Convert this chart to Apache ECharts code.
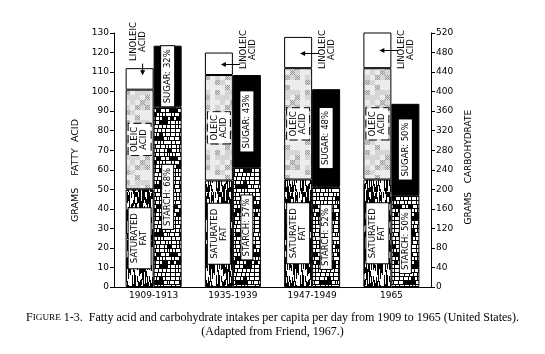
<!DOCTYPE html>
<html><head><meta charset="utf-8">
<script src="https://cdn.jsdelivr.net/npm/echarts@6/dist/echarts.min.js"></script>
<style>html,body{margin:0;padding:0;background:#fff}#c{width:545px;height:354px}</style>
</head><body><div id="c"></div>
<script>
// ---- data ----
const categories = ['1909-1913', '1935-1939', '1947-1949', '1965'];
const saturatedFat = [50, 54.5, 55, 55];
const oleicAcid = [51, 54, 57, 57];
const linoleicAcid = [11, 11.5, 16, 18.5];
const starch = [369, 244, 205, 188];
const sugar = [125, 190, 200, 187];
const starchPct = ['68%', '57%', '52%', '50%'];
const sugarPct = ['32%', '43%', '48%', '50%'];
const fatAxis = { min: 0, max: 130, interval: 10 };
const carbAxis = { min: 0, max: 520, interval: 40 };

// ---- styling ----
const SANS = '"DejaVu Sans", sans-serif';
const SERIF = '"Liberation Serif", "DejaVu Serif", serif';
const BAR_W = 28;

function makeCanvas(w, h, draw) { const c = document.createElement('canvas'); c.width = w; c.height = h; draw(c.getContext('2d'), w, h); return c; }
function hash(x, y) { const s = Math.sin(x * 12.9898 + y * 78.233) * 43758.5453; return s - Math.floor(s); }

const satPattern = makeCanvas(28, 48, (g, w, h) => {
  g.fillStyle = '#fff'; g.fillRect(0, 0, w, h); g.fillStyle = '#000';
  for (let x = 0; x < w; x++) {
    const off = Math.floor(hash(x, 3) * 8);
    for (let y = 0; y < h; y++) {
      if (hash(x, Math.floor((y + off) / 6)) < 0.62) g.fillRect(x, y, 1, 1);
    }
  }
});
const starchPattern = makeCanvas(28, 48, (g, w, h) => {
  g.fillStyle = '#fff'; g.fillRect(0, 0, w, h); g.fillStyle = '#000';
  for (let r = 0; r < 12; r++) {
    const y = r * 4; g.fillRect(0, y, w, 1);
    let x = Math.floor(hash(r, 2) * 4), k = 0;
    while (x < w) {
      g.fillRect(x, y, 1, 4);
      const cw = 3 + Math.floor(hash(r, k + 5) * 3);
      if (hash(r, k + 20) < 0.12) g.fillRect(x, y, cw, 4);
      x += cw; k++;
    }
  }
});
const oleicPattern = makeCanvas(30, 30, (g, w, h) => {
  g.fillStyle = '#d6d6d6'; g.fillRect(0, 0, w, h);
  for (let x = 0; x < w; x++) for (let y = 0; y < h; y++) {
    const v = hash(Math.floor(x / 5), Math.floor(y / 5));
    if (v < 0.35) { g.fillStyle = '#ececec'; g.fillRect(x, y, 1, 1); }
    else if (v > 0.78 && (x + y) % 2 === 0) { g.fillStyle = '#9a9a9a'; g.fillRect(x, y, 1, 1); }
  }
});

const boxLabel = (fmt, extra) => Object.assign({
  show: true, position: 'inside', rotate: 90, formatter: fmt,
  color: '#000', fontFamily: SANS, fontSize: 8.5, lineHeight: 9,
  backgroundColor: '#fff', borderColor: '#000', borderWidth: 1, padding: [2, 5, 2, 5]
}, extra || {});

const chart = echarts.init(document.getElementById('c'), null, { renderer: 'canvas' });
const option = {
  animation: false,
  backgroundColor: '#fff',
  grid: { left: 114, right: 114, top: 33, bottom: 67 },
  xAxis: {
    type: 'category', data: categories,
    axisLine: { lineStyle: { color: '#000', width: 1 } },
    axisTick: { show: false },
    axisLabel: { color: '#000', fontFamily: SANS, fontSize: 9, margin: 4 }
  },
  yAxis: [
    {
      type: 'value', min: fatAxis.min, max: fatAxis.max, interval: fatAxis.interval,
      name: 'GRAMS    FATTY  ACID       ', nameLocation: 'middle', nameRotate: 90, nameGap: 24,
      nameTextStyle: { color: '#000', fontFamily: SANS, fontSize: 9.5 },
      axisLine: { show: true, lineStyle: { color: '#000' } },
      axisTick: { show: true, length: 4, lineStyle: { color: '#000' } },
      axisLabel: { color: '#000', fontFamily: SANS, fontSize: 9, margin: 5 },
      splitLine: { show: false }
    },
    {
      type: 'value', min: carbAxis.min, max: carbAxis.max, interval: carbAxis.interval, position: 'right',
      name: 'GRAMS   CARBOHYDRATE     ', nameLocation: 'middle', nameRotate: 90, nameGap: 32,
      nameTextStyle: { color: '#000', fontFamily: SANS, fontSize: 9 },
      axisLine: { show: true, lineStyle: { color: '#000' } },
      axisTick: { show: true, length: 4, lineStyle: { color: '#000' } },
      axisLabel: { color: '#000', fontFamily: SANS, fontSize: 9, margin: 5 },
      splitLine: { show: false }
    }
  ],
  series: [
    {
      name: 'Saturated fat', type: 'bar', stack: 'fat', yAxisIndex: 0, data: saturatedFat,
      barWidth: BAR_W, barGap: '0%',
      itemStyle: { color: { image: satPattern, repeat: 'repeat' }, borderColor: '#000', borderWidth: 1 },
      label: boxLabel('SATURATED\nFAT')
    },
    {
      name: 'Oleic acid', type: 'bar', stack: 'fat', yAxisIndex: 0, data: oleicAcid,
      barWidth: BAR_W, barGap: '0%',
      itemStyle: { color: { image: oleicPattern, repeat: 'repeat' }, borderColor: '#000', borderWidth: 1 },
      label: boxLabel('OLEIC\nACID', { borderType: 'dashed', padding: [2, 3, 2, 3] })
    },
    {
      name: 'Linoleic acid', type: 'bar', stack: 'fat', yAxisIndex: 0, data: linoleicAcid,
      barWidth: BAR_W, barGap: '0%',
      itemStyle: { color: '#fff', borderColor: '#000', borderWidth: 1 }
    },
    {
      name: 'Starch', type: 'bar', stack: 'carb', yAxisIndex: 1, data: starch,
      barWidth: BAR_W, barGap: '0%',
      itemStyle: { color: { image: starchPattern, repeat: 'repeat' }, borderColor: '#000', borderWidth: 1 },
      label: boxLabel(p => 'STARCH: ' + starchPct[p.dataIndex], { padding: [1, 3, 1, 3] })
    },
    {
      name: 'Sugar', type: 'bar', stack: 'carb', yAxisIndex: 1, data: sugar,
      barWidth: BAR_W, barGap: '0%',
      itemStyle: { color: '#000', borderColor: '#000', borderWidth: 1 },
      label: boxLabel(p => 'SUGAR: ' + sugarPct[p.dataIndex], { padding: [2, 3, 2, 3] })
    }
  ]
};
chart.setOption(option);

// ---- linoleic annotations, positioned from the axes ----
const gfx = [];
const yOf = v => chart.convertToPixel({ yAxisIndex: 0 }, v);
categories.forEach((c, i) => {
  const cx = chart.convertToPixel({ xAxisIndex: 0 }, i);
  const fatCenter = cx - BAR_W / 2;
  const top = yOf(saturatedFat[i] + oleicAcid[i] + linoleicAcid[i]);
  const bot = yOf(saturatedFat[i] + oleicAcid[i]);
  const txt = { fill: '#000', text: 'LINOLEIC\nACID', font: '8.5px ' + SANS, align: 'center', verticalAlign: 'middle', lineHeight: 9 };
  if (i === 0) {
    const ty = yOf(125.6);
    const tipY = top + 7, ax = fatCenter + 3;
    gfx.push({ type: 'text', z: 100, x: fatCenter - 1, y: ty, rotation: Math.PI / 2, style: txt });
    gfx.push({ type: 'line', z: 100, shape: { x1: ax, y1: ty + 22, x2: ax, y2: tipY - 3 }, style: { stroke: '#000', lineWidth: 1 } });
    gfx.push({ type: 'polygon', z: 100, shape: { points: [[ax, tipY], [ax - 2.5, tipY - 5], [ax + 2.5, tipY - 5]] }, style: { fill: '#000' } });
  } else {
    const ay = Math.round((top + bot) / 2) + 0.5;
    const tip = fatCenter + 2, tail = cx + 7;
    gfx.push({ type: 'line', z: 100, shape: { x1: tip + 3, y1: ay, x2: tail, y2: ay }, style: { stroke: '#000', lineWidth: 1 } });
    gfx.push({ type: 'polygon', z: 100, shape: { points: [[tip, ay], [tip + 5, ay - 2.5], [tip + 5, ay + 2.5]] }, style: { fill: '#000' } });
    gfx.push({ type: 'text', z: 100, x: tail + 8, y: yOf(121.5), rotation: Math.PI / 2, style: txt });
  }
});
gfx.push({
  type: 'text', left: 'center', top: 312, z: 100,
  style: {
    text: 'F{sc|IGURE} 1-3.  Fatty acid and carbohydrate intakes per capita per day from 1909 to 1965 (United States).',
    fill: '#000', fontFamily: SERIF, fontSize: 12,
    rich: { sc: { fontFamily: SERIF, fontSize: 9.2, fill: '#000' } }
  }
});
gfx.push({
  type: 'text', left: 'center', top: 326, z: 100,
  style: { text: '(Adapted from Friend, 1967.)', fill: '#000', fontFamily: SERIF, fontSize: 12 }
});
chart.setOption({ graphic: gfx });
</script>
</body></html>
